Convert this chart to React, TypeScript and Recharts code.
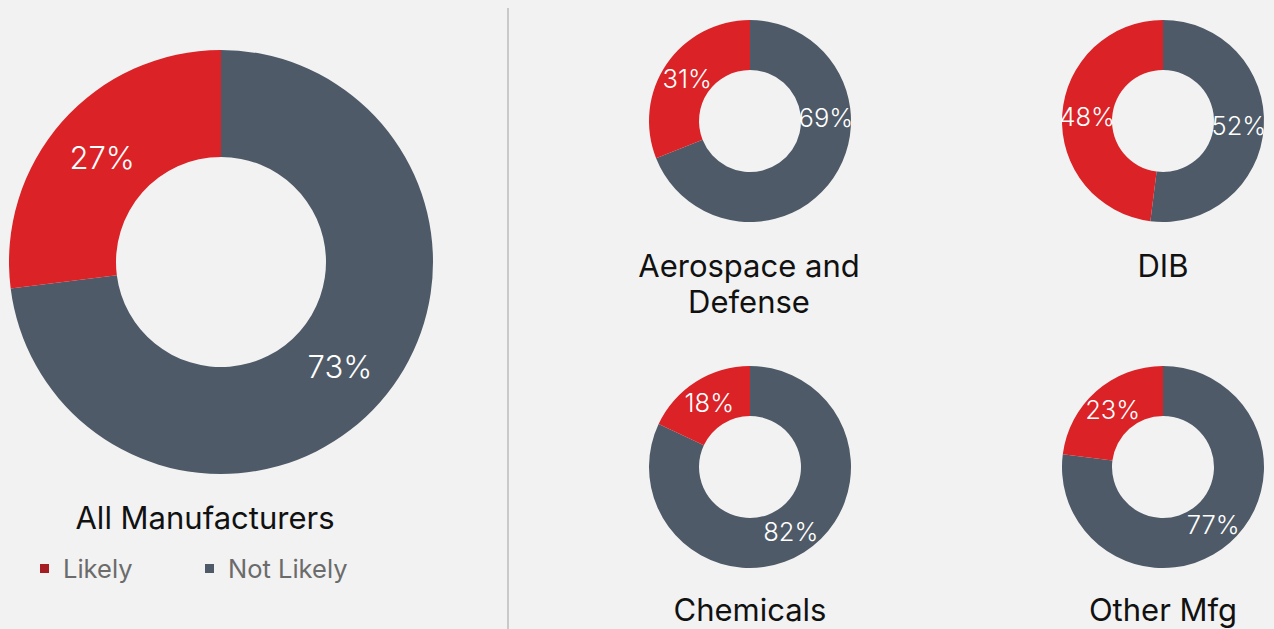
import React from 'react';
import { PieChart, Pie, Cell } from 'recharts';

const seriesNames = ['Not Likely', 'Likely'];
const sliceColors = ['#4e5a67', '#db2227'];
const legendColors = ['#a51d22', '#4e5a67'];

const allManufacturers = [73, 27];
const aerospace = [69, 31];
const dib = [52, 48];
const chemicals = [82, 18];
const otherMfg = [77, 23];

const chartTitles = ['All Manufacturers', 'Aerospace and\nDefense', 'DIB', 'Chemicals', 'Other Mfg'];
// optional manual label angle overrides (degrees, recharts convention), keyed by chart then slice
const labelAngleOverride: Record<number, Record<number, number>> = { 1: { 0: 3 } };

const toData = (vals: number[]) => vals.map((v, i) => ({ name: seriesNames[i], value: v }));

const RAD = Math.PI / 180;

const makeLabel = (chartIdx: number, fontSize: number) => (props: any) => {
  const { cx, cy, midAngle, innerRadius, outerRadius, value, index } = props;
  const ov = labelAngleOverride[chartIdx]?.[index];
  const ang = ov !== undefined ? ov : midAngle;
  const r = (innerRadius + outerRadius) / 2;
  const x = cx + r * Math.cos(-ang * RAD);
  const y = cy + r * Math.sin(-ang * RAD);
  return (
    <text x={x} y={y} fill="#ffffff" textAnchor="middle" dominantBaseline="central"
      style={{ fontFamily: 'Inter, sans-serif', fontWeight: 300, fontSize }}>
      {value}%
    </text>
  );
};

const pies = [
  { data: allManufacturers, cx: 221, cy: 262, inner: 105, outer: 212, fs: 31 },
  { data: aerospace, cx: 750, cy: 121, inner: 51, outer: 101, fs: 25.5 },
  { data: dib, cx: 1163, cy: 121, inner: 51, outer: 101, fs: 25.5 },
  { data: chemicals, cx: 750, cy: 467, inner: 51, outer: 101, fs: 25.5 },
  { data: otherMfg, cx: 1163, cy: 467, inner: 51, outer: 101, fs: 25.5 },
];

const titlePos = [
  { x: 205, y: 500 },
  { x: 749, y: 248 },
  { x: 1163, y: 248 },
  { x: 750, y: 592 },
  { x: 1163, y: 592 },
];

export default function App() {
  return (
    <div style={{ position: 'absolute', left: 0, top: 0, width: 1274, height: 629, background: '#f2f2f2', overflow: 'hidden', fontFamily: 'Inter, sans-serif' }}>
      <div style={{ position: 'absolute', left: 507, top: 8, width: 2, height: 621, background: '#c9c9c9' }} />
      <div style={{ position: 'absolute', left: 0, top: 0 }}>
        <PieChart width={1274} height={629} margin={{ top: 0, right: 0, bottom: 0, left: 0 }}>
          {pies.map((p, ci) => (
            <Pie key={ci} data={toData(p.data)} dataKey="value" nameKey="name" cx={p.cx} cy={p.cy}
              innerRadius={p.inner} outerRadius={p.outer} startAngle={90} endAngle={-270}
              stroke="none" isAnimationActive={false} labelLine={false} label={makeLabel(ci, p.fs)}>
              {p.data.map((_, i) => <Cell key={i} fill={sliceColors[i]} />)}
            </Pie>
          ))}
        </PieChart>
      </div>
      {chartTitles.map((t, i) => (
        <div key={i} style={{ position: 'absolute', left: titlePos[i].x - 200, top: titlePos[i].y, width: 400, textAlign: 'center', fontSize: 31, lineHeight: '36px', color: '#111', whiteSpace: 'pre-line' }}>
          {t}
        </div>
      ))}
      {[1, 0].map((si, k) => (
        <div key={si} style={{ position: 'absolute', left: k === 0 ? 40 : 205, top: 553, display: 'flex', alignItems: 'center', height: 30 }}>
          <div style={{ width: 9, height: 9, background: legendColors[k] }} />
          <span style={{ marginLeft: 14, fontSize: 25.5, color: '#6b6b6b' }}>{seriesNames[si]}</span>
        </div>
      ))}
    </div>
  );
}
